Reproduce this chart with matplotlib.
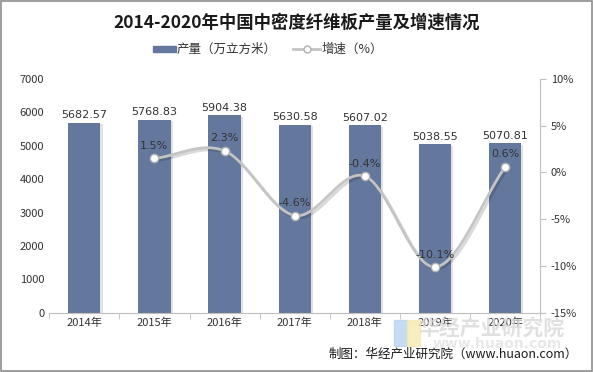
import numpy as np
import matplotlib.pyplot as plt
import matplotlib.patheffects as pe
from matplotlib.patches import Rectangle

plt.rcParams['font.family'] = ['Noto Sans CJK SC', 'DejaVu Sans']

years = ['2014年', '2015年', '2016年', '2017年', '2018年', '2019年', '2020年']
output = [5682.57, 5768.83, 5904.38, 5630.58, 5607.02, 5038.55, 5070.81]
growth_years = [1, 2, 3, 4, 5, 6]
growth = [1.5, 2.3, -4.6, -0.4, -10.1, 0.6]

bar_color = '#64789e'
line_color = '#c4c4c4'


def catmull(xs, ys, n=30):
    # smooth curve like excel's smoothed line
    xs = np.asarray(xs, float)
    ys = np.asarray(ys, float)
    px = np.concatenate([[2 * xs[0] - xs[1]], xs, [2 * xs[-1] - xs[-2]]])
    py = np.concatenate([[2 * ys[0] - ys[1]], ys, [2 * ys[-1] - ys[-2]]])
    ox, oy = [], []
    t = np.linspace(0, 1, n)
    for i in range(1, len(px) - 2):
        for p, o in ((px, ox), (py, oy)):
            p0, p1, p2, p3 = p[i - 1], p[i], p[i + 1], p[i + 2]
            c1 = p1 + (p2 - p0) / 6
            c2 = p2 - (p3 - p1) / 6
            o.extend((1 - t) ** 3 * p1 + 3 * (1 - t) ** 2 * t * c1 + 3 * (1 - t) * t ** 2 * c2 + t ** 3 * p2)
    return np.array(ox), np.array(oy)


fig = plt.figure(figsize=(5.93, 3.72), dpi=100)
fig.patches.append(Rectangle((0.002, 0.003), 0.996, 0.994, transform=fig.transFigure,
                             fill=False, edgecolor='#8c8c8c', linewidth=1.2))
ax = fig.add_axes([0.083, 0.159, 0.828, 0.629])
x = np.arange(len(years))
bars = ax.bar(x, output, width=0.46, color=bar_color, zorder=2,
              path_effects=[pe.SimplePatchShadow(offset=(1.5, -1), shadow_rgbFace='#aaaaaa', alpha=0.35), pe.Normal()])
for xi, v in zip(x, output):
    ax.text(xi, v + 80, f'{v:.2f}', ha='center', va='bottom', fontsize=8, color='#333333',
            family=['DejaVu Sans'])
ax.set_ylim(0, 7000)
ax.set_xlim(-0.5, 6.5)
ax.set_yticks(range(0, 7001, 1000))
ax.set_xticks(x)
ax.set_xticklabels(years, fontsize=8, color='#333333')
ax.tick_params(axis='y', length=0, labelsize=8, labelcolor='#333333')
ax.set_xticks(np.arange(-0.5, 7, 1), minor=True)
ax.tick_params(axis='x', which='major', length=0)
ax.tick_params(axis='x', which='minor', length=4, color='#bfbfbf')
for s in ['top', 'left', 'right']:
    ax.spines[s].set_visible(False)
ax.spines['bottom'].set_color('#bfbfbf')

ax2 = ax.twinx()
sx, sy = catmull(growth_years, growth)
ax2.plot(sx, sy, color=line_color, linewidth=2, zorder=3,
         path_effects=[pe.SimpleLineShadow(offset=(1.5, -1.5), alpha=0.15), pe.Normal()])
ax2.plot(growth_years, growth, 'o', color='white', markeredgecolor='#b0b0b0', markersize=6,
         markeredgewidth=1, zorder=4)
for xi, g in zip(growth_years, growth):
    ax2.text(xi, g + 0.8, f'{g}%', ha='center', va='bottom', fontsize=8, color='#333333',
             family=['DejaVu Sans'])
ax2.set_ylim(-15, 10)
ax2.set_yticks(range(-15, 11, 5))
ax2.set_yticklabels([f'{v}%' for v in range(-15, 11, 5)])
ax2.tick_params(axis='y', labelsize=8, labelcolor='#333333', length=4, color='#bfbfbf')
for s in ['top', 'left', 'bottom']:
    ax2.spines[s].set_visible(False)
ax2.spines['right'].set_color('#bfbfbf')

fig.text(0.5, 0.94, '2014-2020年中国中密度纤维板产量及增速情况', ha='center', va='center',
         fontsize=12.5, fontweight='bold', color='#1a1a1a')

# legend
lx = 0.258
fig.patches.append(Rectangle((lx, 0.861), 0.038, 0.016, transform=fig.transFigure, color=bar_color))
fig.text(lx + 0.04, 0.868, '产量（万立方米）', va='center', fontsize=9, color='#333333')
fig.lines.append(plt.Line2D([0.494, 0.54], [0.869, 0.869], transform=fig.transFigure,
                            color=line_color, linewidth=2))
fig.lines.append(plt.Line2D([0.517], [0.869], transform=fig.transFigure, marker='o',
                            color='white', markeredgecolor='#b0b0b0', markersize=5))
fig.text(0.542, 0.868, '增速（%）', va='center', fontsize=9, color='#333333')

# watermark
fig.text(0.705, 0.117, '华经产业研究院', fontsize=15, fontweight='bold', color='#d9d9d9',
         alpha=0.8, va='center')
fig.text(0.73, 0.075, 'www.huaon.com', fontsize=10, fontweight='bold', color='#e3e3e3',
         alpha=0.8, va='center', family=['DejaVu Sans'])
fig.patches.append(Rectangle((0.665, 0.07), 0.022, 0.07, transform=fig.transFigure,
                             color='#b8d4f0', alpha=0.8))
fig.patches.append(Rectangle((0.687, 0.07), 0.022, 0.07, transform=fig.transFigure,
                             color='#f5e9b0', alpha=0.8))

fig.text(0.975, 0.048, '制图：华经产业研究院（www.huaon.com）', ha='right', va='center',
         fontsize=9, color='#1a1a1a')

fig.savefig('out.png', dpi=100)
